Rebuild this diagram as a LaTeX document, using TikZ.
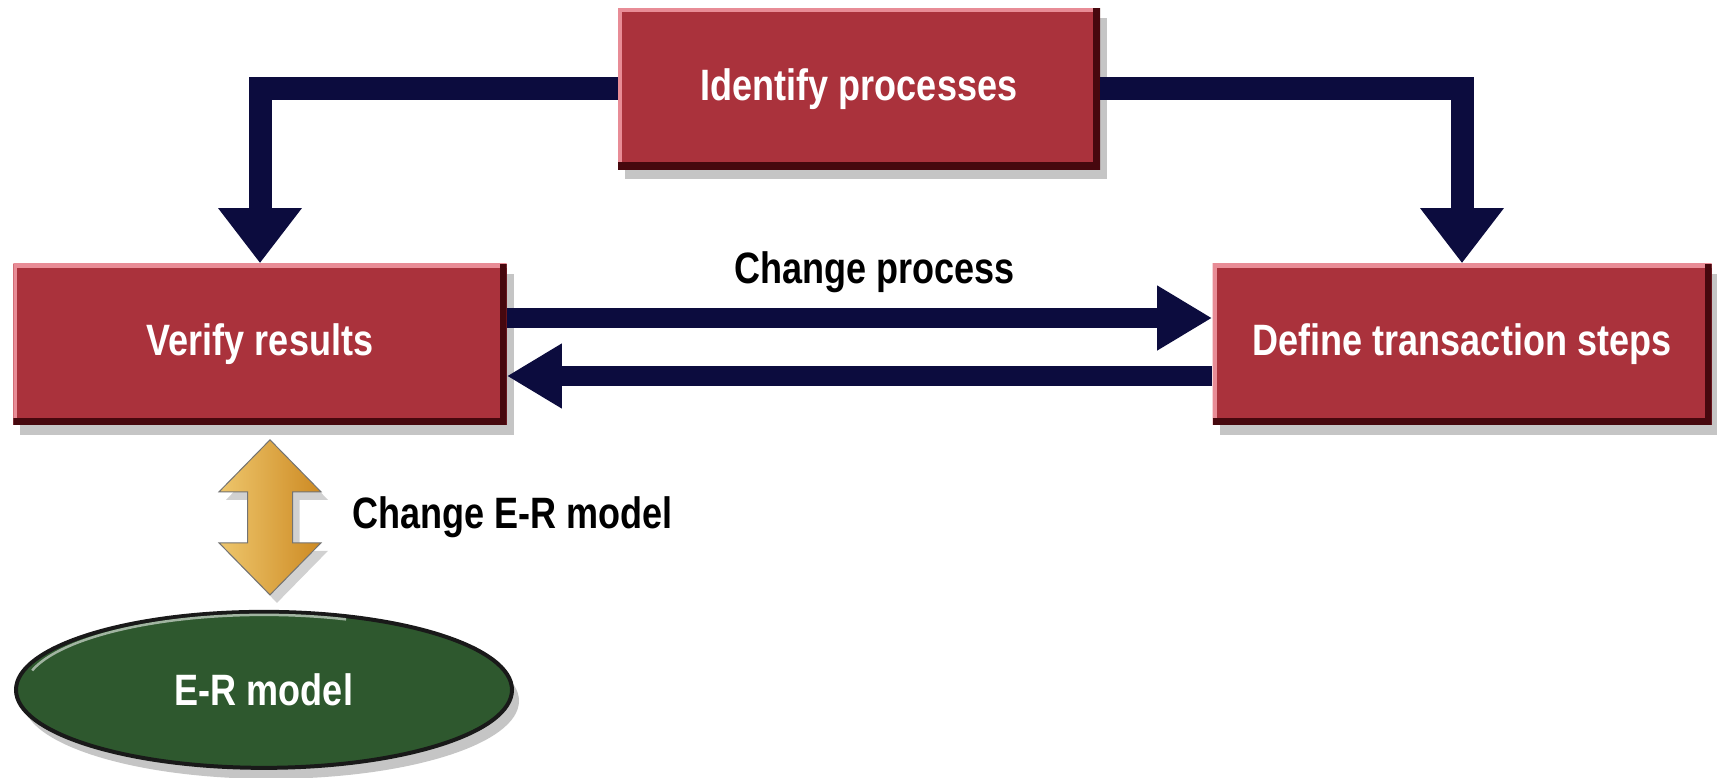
\documentclass[tikz,border=0pt]{standalone}
\usepackage{fontspec}
\newfontfamily\diagfont[FakeStretch=0.82]{Liberation Sans}
\usepackage{tikz}
\usetikzlibrary{positioning}
\usetikzlibrary{arrows.meta}
\usetikzlibrary{shadows}
\usetikzlibrary{shapes.geometric}
\usetikzlibrary{calc}
\definecolor{boxred}{RGB}{170,50,60}
\definecolor{boxhi}{RGB}{232,140,150}
\definecolor{boxlo}{RGB}{70,8,14}
\definecolor{navy}{RGB}{12,12,62}
\definecolor{ergreen}{RGB}{46,88,46}
\definecolor{goldlight}{RGB}{252,224,140}
\definecolor{golddark}{RGB}{205,138,35}

\begin{document}
\begin{tikzpicture}[
        font=\diagfont\bfseries\fontsize{25}{30}\selectfont,
        proc/.style={fill=boxred, text=white, minimum height=3.22cm, inner sep=0pt,
            drop shadow={shadow xshift=0.14cm, shadow yshift=-0.2cm, fill=black!45, opacity=.5},
            path picture={
                \draw[boxhi, line width=0.16cm]
                    (path picture bounding box.south west) -- (path picture bounding box.north west)
                    -- (path picture bounding box.north east);
                \draw[boxlo, line width=0.28cm]
                    (path picture bounding box.south west) -- (path picture bounding box.south east)
                    -- (path picture bounding box.north east);
            }},
        model/.style={ellipse, fill=ergreen, draw=black!90, line width=0.08cm, text=white,
            minimum width=9.92cm, minimum height=3.12cm, inner sep=0pt,
            drop shadow={shadow xshift=0.14cm, shadow yshift=-0.22cm, fill=black!45, opacity=.5}},
        flow/.style={draw=navy, line width=0.4cm, -{Triangle[width=1.22cm, length=1.1cm]}},
        feed/.style={draw=navy, line width=0.46cm, -{Triangle[width=1.6cm, length=1.1cm]}},
        lbl/.style={inner sep=0pt, text=black}
    ]
        \fill[white] (0,0) rectangle (34.34,-15.56);
        \useasboundingbox (0,0) rectangle (34.34,-15.56);

        \node[proc, minimum width=9.64cm] (ip) at (17.18,-1.78) {Identify processes};
        \node[proc, minimum width=9.86cm] (vr) at (5.2,-6.88)   {Verify results};
        \node[proc, minimum width=9.98cm] (dt) at (29.24,-6.88) {Define transaction steps};
        \node[model, below=3.7cm of vr, xshift=0.08cm] (er) {E-R model};

        \draw[feed] (ip.west) -| (vr.north);
        \draw[feed] (ip.east) -| (dt.north);
        \draw[flow] ([yshift=0.52cm]vr.east) -- ([yshift=0.52cm]dt.west);
        \draw[flow] ([yshift=-0.64cm]dt.west) -- ([yshift=-0.64cm]vr.east);

        \node[lbl] (cp) at ($(vr.east)!.5!(dt.west)+(0.3,1.44)$) {Change process};

        \draw[white!55!ergreen, line width=0.05cm]
            ($(er.center)+({4.8*cos(165)},{1.5*sin(165)})$)
            arc[start angle=165, end angle=70, x radius=4.8cm, y radius=1.5cm];

        \coordinate (mid) at ($(vr.south)!.5!(er.north)+(0.16,0)$);
        \path[draw=black!55, line width=0.02cm, left color=goldlight!70!golddark,
              middle color=goldlight, right color=golddark,
              drop shadow={shadow xshift=0.14cm, shadow yshift=-0.16cm, fill=black!40, opacity=.45}]
            ($(mid)+(0,1.55)$) -- ++(1.02,-1.04) -- ++(-0.57,0) -- ++(0,-1.02)
            -- ++(0.57,0) -- ++(-1.02,-1.04) -- ++(-1.02,1.04) -- ++(0.57,0)
            -- ++(0,1.02) -- ++(-0.57,0) -- cycle;
        \node[lbl, right=1.64cm of mid] (cm) {Change E-R model};
      \end{tikzpicture}
\end{document}
